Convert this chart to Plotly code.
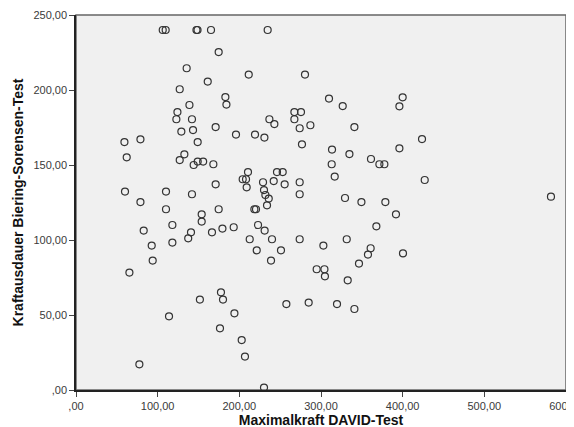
import plotly.graph_objects as go

# Maximalkraft DAVID-Test (x) and Kraftausdauer Biering-Sorensen-Test (y)
max_kraft = [106.2, 109.8, 147.5, 148.8, 165.3, 234.7,
             135.5, 174.7, 211.5, 280.4, 161.3, 127.0, 182.9, 184.2, 138.9,
             309.8, 326.6, 400.0, 396.0, 124.2, 267.4, 275.5, 122.9, 142.0,
             236.8, 267.4, 242.9, 287.0, 171.0, 340.9, 273.9, 143.3, 129.0,
             195.9, 219.2, 230.7, 423.7, 78.9, 59.3, 149.0, 276.7, 396.0,
             313.5, 334.8, 132.7, 62.1, 361.2, 127.0, 149.0, 155.7, 144.1,
             168.2, 313.1, 371.5, 377.6, 210.6, 246.1, 253.1, 316.8, 204.1,
             208.2, 427.0, 242.1, 229.0, 273.9, 171.0, 255.5, 209.0, 230.2,
             60.0, 110.2, 142.0, 273.9, 231.9, 581.6, 329.4, 236.0, 78.9,
             349.5, 378.8, 233.9, 174.7, 218.4, 220.4, 110.2, 153.9, 391.8,
             153.9, 118.0, 222.9, 367.8, 193.1, 179.3, 82.9, 231.0, 140.8,
             166.5, 137.4, 212.7, 240.0, 273.9, 331.5, 118.0, 92.7, 302.9,
             360.8, 221.3, 251.0, 400.4, 357.5, 93.9, 238.8, 346.5, 294.7,
             304.2, 65.4, 304.8, 332.7, 177.5, 151.7, 180.0, 284.9, 257.6,
             319.6, 340.9, 194.0, 113.9, 176.3, 202.9, 206.9, 77.6, 230.2]
kraftausdauer = [240.0, 240.0, 240.0, 240.0, 240.0, 240.0,
                 214.5, 225.3, 210.3, 210.3, 205.6, 200.5, 195.3, 190.3, 190.0,
                 194.3, 189.3, 195.1, 189.1, 185.3, 185.3, 185.3, 180.5, 180.5,
                 180.5, 180.5, 177.3, 176.5, 175.3, 175.3, 174.5, 173.3, 172.3,
                 170.3, 170.3, 168.3, 167.3, 167.1, 165.3, 165.3, 163.8, 161.1,
                 160.3, 157.3, 157.1, 155.1, 154.0, 153.3, 152.3, 152.3, 150.0,
                 150.5, 150.5, 150.5, 150.5, 145.3, 145.3, 145.3, 142.3, 140.5,
                 140.5, 140.0, 139.3, 138.5, 138.5, 137.1, 137.1, 135.1, 133.3,
                 132.3, 132.3, 130.5, 130.5, 130.0, 128.9, 128.0, 127.6, 125.3,
                 125.3, 125.3, 123.1, 120.5, 120.5, 120.5, 120.5, 117.1, 117.1,
                 112.3, 110.0, 110.0, 109.1, 108.5, 107.6, 106.3, 106.3, 105.1,
                 105.1, 101.1, 100.5, 100.5, 100.5, 100.5, 98.3, 96.3, 96.3,
                 94.5, 93.1, 93.1, 91.1, 90.3, 86.3, 86.3, 84.3, 80.5,
                 80.5, 78.3, 75.8, 73.1, 65.1, 60.3, 60.3, 58.3, 57.3,
                 57.3, 54.0, 51.1, 49.1, 41.1, 33.3, 22.3, 17.1, 1.6]

x_tick_vals = [0, 100, 200, 300, 400, 500, 600]
x_tick_text = [",00", "100,00", "200,00", "300,00", "400,00", "500,00", "600,00"]
y_tick_vals = [0, 50, 100, 150, 200, 250]
y_tick_text = [",00", "50,00", "100,00", "150,00", "200,00", "250,00"]

x_title = "Maximalkraft DAVID-Test"
y_title = "Kraftausdauer Biering-Sorensen-Test"

fig = go.Figure(go.Scatter(
    x=max_kraft, y=kraftausdauer, mode="markers",
    marker=dict(symbol="circle-open", size=7, color="#333333",
                line=dict(width=1.2)),
    cliponaxis=False, hoverinfo="skip"))

axis_common = dict(showgrid=False, zeroline=False, showline=True,
                   linecolor="#222222", linewidth=1.5,
                   ticks="outside", ticklen=5, tickcolor="#444444",
                   tickfont=dict(family="Liberation Sans, Arial", size=11, color="#3a3a3a"),
                   ticklabeloverflow="allow",
                   automargin=False)

fig.update_layout(
    width=574, height=427,
    margin=dict(l=68, r=16, t=7, b=45),
    paper_bgcolor="white", plot_bgcolor="#F0F0F0",
    showlegend=False,
    xaxis=dict(range=[0, 600], tickvals=x_tick_vals, ticktext=x_tick_text,
               title=dict(text=x_title, standoff=4,
                          font=dict(family="Liberation Sans, Arial", size=14, color="#111111")),
               **axis_common),
    yaxis=dict(range=[0, 250], tickvals=y_tick_vals, ticktext=y_tick_text,
               title=dict(text=y_title, standoff=6,
                          font=dict(family="Liberation Sans, Arial", size=14, color="#111111")),
               **axis_common),
    shapes=[dict(type="rect", xref="paper", yref="paper", x0=0, y0=0, x1=1, y1=1,
                 line=dict(color="#666666", width=1.5), layer="below")],
)
fig.update_xaxes(title_font_weight="bold")
fig.update_yaxes(title_font_weight="bold")

fig.write_html("out.html")
